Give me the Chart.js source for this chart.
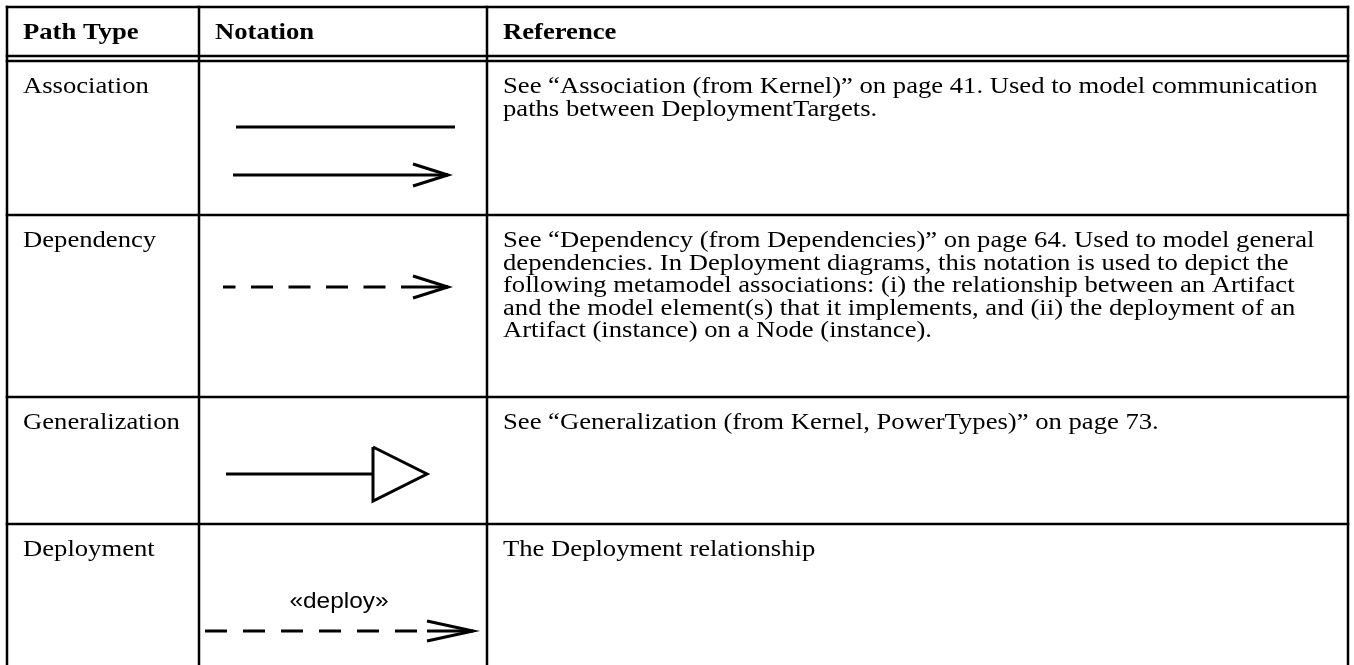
<!DOCTYPE html>
<html>
<head>
<meta charset="utf-8">
<script src="https://cdn.jsdelivr.net/npm/chart.js@4/dist/chart.umd.min.js"></script>
<style>
  html, body { margin: 0; padding: 0; background: #fff; }
  #wrap { width: 1354px; height: 665px; }
</style>
</head>
<body>
<div id="wrap"><canvas id="pathTable"></canvas></div>
<script>
// table content
const headers = ['Path Type', 'Notation', 'Reference'];
const pathTypes = ['Association', 'Dependency', 'Generalization', 'Deployment'];
const notations = [['line', 'arrow'], ['dashArrow'], ['generalization'], ['deployArrow']];
const stereotypes = ['', '', '', '«deploy»'];
const references = [
  ['See “Association (from Kernel)” on page 41. Used to model communication',
   'paths between DeploymentTargets.'],
  ['See “Dependency (from Dependencies)” on page 64. Used to model general',
   'dependencies. In Deployment diagrams, this notation is used to depict the',
   'following metamodel associations: (i) the relationship between an Artifact',
   'and the model element(s) that it implements, and (ii) the deployment of an',
   'Artifact (instance) on a Node (instance).'],
  ['See “Generalization (from Kernel, PowerTypes)” on page 73.'],
  ['The Deployment relationship']
];

// table layout (page pixels)
const W = 1354, H = 665;
const colEdges = [7, 199, 487, 1348];
const headTop = 7;
const headLines = [56, 61];
const rowTops = [61, 215, 397, 524];
const tableBottom = 665;
const padX = 16, firstBase = 32, lineStep = 22.5;
const stretch = 1.11;

const black = '#000';
const serif = '24px "Liberation Serif", "Times New Roman", Times, serif';
const bold = 'bold 24px "Liberation Serif", "Times New Roman", Times, serif';
const sans = '22px "Liberation Sans", Arial, Helvetica, sans-serif';

function seg(points, extra) {
  return Object.assign({
    data: points.map(p => ({ x: p[0], y: p[1] })),
    showLine: true,
    borderColor: black,
    borderWidth: 2.5,
    pointRadius: 0,
    fill: false,
    clip: false,
    tension: 0,
    borderCapStyle: 'butt',
    borderJoinStyle: 'miter'
  }, extra || {});
}

const datasets = [];

// grid lines
[headTop].concat(headLines, rowTops.slice(1)).forEach(y => {
  datasets.push(seg([[colEdges[0], y], [colEdges[3], y]], { borderCapStyle: 'square' }));
});
colEdges.forEach(x => {
  datasets.push(seg([[x, headTop], [x, tableBottom]], { borderCapStyle: 'square' }));
});

// notation marks, placed relative to their cell
const markW = 3;
function openHead(tipX, y, len, half) {
  return seg([[tipX - len, y - half], [tipX, y], [tipX - len, y + half]], { borderWidth: markW });
}

notations.forEach((kinds, r) => {
  const cx = colEdges[1];
  const top = rowTops[r];
  kinds.forEach(kind => {
    if (kind === 'line') {
      datasets.push(seg([[cx + 37, top + 66], [cx + 256, top + 66]], { borderWidth: markW }));
    } else if (kind === 'arrow') {
      const y = top + 114, tip = cx + 249;
      datasets.push(seg([[cx + 34, y], [tip, y]], { borderWidth: markW }));
      datasets.push(openHead(tip, y, 35, 11));
    } else if (kind === 'dashArrow') {
      const y = top + 72, tip = cx + 249;
      datasets.push(seg([[cx + 24, y], [tip - 55, y]],
        { borderWidth: markW, borderDash: [22, 15.5], borderDashOffset: 9.5 }));
      datasets.push(seg([[tip - 47, y], [tip, y]], { borderWidth: markW }));
      datasets.push(openHead(tip, y, 35, 11));
    } else if (kind === 'generalization') {
      const y = top + 77, base = cx + 174, tip = cx + 228;
      datasets.push(seg([[cx + 27, y], [base, y]], { borderWidth: markW }));
      datasets.push(seg([[base, y - 27], [tip, y], [base, y + 27], [base, y - 27]], { borderWidth: markW }));
    } else if (kind === 'deployArrow') {
      const y = top + 107, tip = cx + 274;
      datasets.push(seg([[cx + 6, y], [tip - 56, y]],
        { borderWidth: markW, borderDash: [22, 16] }));
      datasets.push(seg([[tip - 46, y], [tip, y]], { borderWidth: markW }));
      datasets.push(openHead(tip, y, 46, 10));
    }
  });
});

function drawText(ctx, str, px, py, font, align) {
  ctx.save();
  ctx.translate(px, py);
  ctx.scale(stretch, 1);
  ctx.font = font;
  ctx.fillStyle = black;
  ctx.textAlign = align || 'left';
  ctx.textBaseline = 'alphabetic';
  ctx.fillText(str, 0, 0);
  ctx.restore();
}

const tableText = {
  id: 'tableText',
  afterDatasetsDraw(chart) {
    const { ctx, scales: { x, y } } = chart;
    headers.forEach((h, i) => {
      drawText(ctx, h, x.getPixelForValue(colEdges[i] + padX), y.getPixelForValue(39), bold);
    });
    pathTypes.forEach((name, r) => {
      const base = rowTops[r] + firstBase;
      drawText(ctx, name, x.getPixelForValue(colEdges[0] + padX), y.getPixelForValue(base), serif);
      references[r].forEach((line, k) => {
        drawText(ctx, line, x.getPixelForValue(colEdges[2] + padX), y.getPixelForValue(base + k * lineStep), serif);
      });
      if (stereotypes[r]) {
        drawText(ctx, stereotypes[r], x.getPixelForValue(colEdges[1] + 140), y.getPixelForValue(rowTops[r] + 84), sans, 'center');
      }
    });
  }
};

function build() {
  new Chart(document.getElementById('pathTable').getContext('2d'), {
    type: 'scatter',
    data: { datasets: datasets },
    options: {
      responsive: true,
      maintainAspectRatio: false,
      animation: false,
      events: [],
      layout: { padding: 0 },
      plugins: { legend: { display: false }, tooltip: { enabled: false } },
      scales: {
        x: { type: 'linear', min: 0, max: W, display: false },
        y: { type: 'linear', min: 0, max: H, reverse: true, display: false }
      }
    },
    plugins: [tableText]
  });
}

Promise.all([serif, bold, sans].map(f => document.fonts.load(f).catch(() => null)))
  .then(build, build);
</script>
</body>
</html>
